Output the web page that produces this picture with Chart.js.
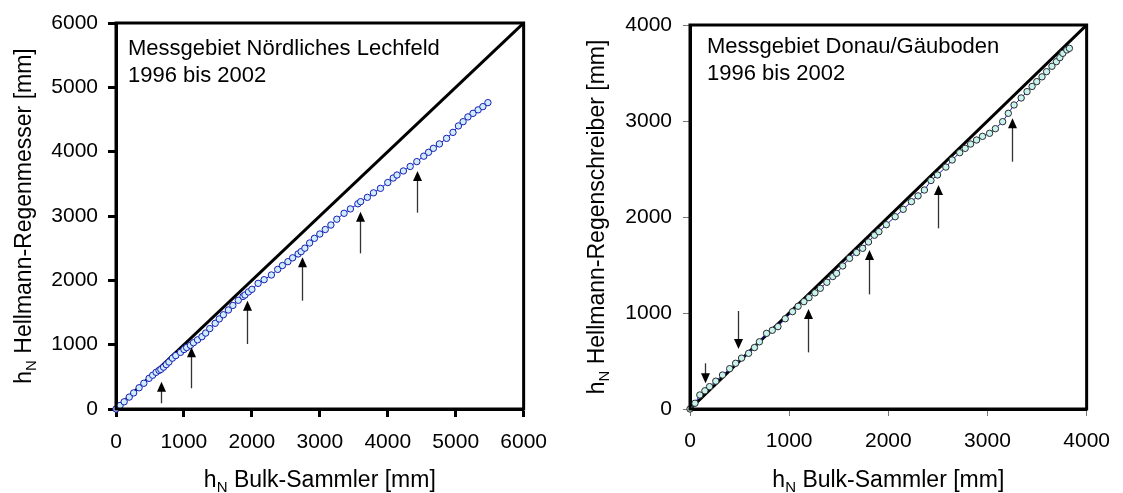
<!DOCTYPE html>
<html>
<head>
<meta charset="utf-8">
<script src="https://cdn.jsdelivr.net/npm/chart.js@4/dist/chart.umd.min.js"></script>
<style>
  body { margin: 0; background: #fff; width: 1123px; height: 493px; overflow: hidden; position: relative; }
  canvas { position: absolute; top: 0; }
  #left { left: 0; }
  #right { left: 560px; }
</style>
</head>
<body>
<canvas id="left" width="560" height="493"></canvas>
<canvas id="right" width="563" height="493"></canvas>
<script>
// ================= DATA =================
// Messgebiet Nördliches Lechfeld (Bulk-Sammler vs. Hellmann-Regenmesser, cumulative mm)
const lechX = [0, 60, 120, 195, 260, 340, 410, 487, 540, 590, 633, 660, 700, 740, 779, 830, 880, 949, 1000, 1040,
  1095, 1140, 1200, 1265, 1320, 1380, 1460, 1520, 1580, 1654, 1720, 1800, 1870, 1898, 1950, 2000, 2092, 2180, 2287, 2380,
  2450, 2530, 2600, 2680, 2725, 2780, 2850, 2920, 3000, 3080, 3163, 3250, 3357, 3450, 3560, 3601, 3700, 3790, 3893, 4000,
  4080, 4136, 4230, 4330, 4428, 4530, 4600, 4671, 4760, 4866, 4960, 5040, 5109, 5180, 5255, 5330, 5400, 5474];
const lechY = [0, 55, 112, 185, 250, 330, 400, 477, 525, 570, 600, 615, 650, 690, 730, 790, 830, 880, 925, 955,
  990, 1030, 1075, 1124, 1180, 1250, 1332, 1400, 1465, 1539, 1610, 1690, 1750, 1772, 1820, 1860, 1953, 2010, 2083, 2170,
  2230, 2290, 2350, 2410, 2446, 2500, 2580, 2653, 2720, 2790, 2860, 2950, 3042, 3110, 3190, 3223, 3290, 3360, 3430, 3520,
  3590, 3637, 3700, 3770, 3845, 3930, 3990, 4052, 4120, 4207, 4300, 4400, 4466, 4540, 4596, 4650, 4700, 4762];
const lechArrowX = [667, 1110, 1922, 2735, 3591, 4433];
const lechArrowFrom = [88, 322, 1010, 1684, 2420, 3052];
const lechArrowTo = [425, 959, 1684, 2358, 3067, 3700];
const lechTicks = [0, 1000, 2000, 3000, 4000, 5000, 6000];

// Messgebiet Donau/Gäuboden (Bulk-Sammler vs. Hellmann-Regenschreiber)
const donauX = [0, 50, 99, 150, 197, 260, 328, 400, 460, 520, 591, 650, 700, 772, 830, 887, 960, 1034, 1090, 1149,
  1200, 1260, 1314, 1380, 1440, 1478, 1540, 1609, 1680, 1741, 1800, 1860, 1905, 1980, 2069, 2150, 2233, 2300, 2364, 2430,
  2496, 2580, 2644, 2720, 2775, 2830, 2890, 2950, 3021, 3080, 3153, 3210, 3268, 3340, 3399, 3450, 3497, 3550, 3596, 3650,
  3695, 3730, 3760, 3800, 3826];
const donauY = [0, 60, 146, 190, 233, 290, 354, 420, 476, 530, 580, 640, 700, 788, 820, 858, 940, 1014, 1070, 1118,
  1160, 1210, 1257, 1320, 1380, 1413, 1490, 1569, 1630, 1674, 1740, 1810, 1847, 1920, 2003, 2080, 2160, 2220, 2281, 2380,
  2438, 2520, 2594, 2670, 2715, 2760, 2802, 2840, 2872, 2920, 2993, 3080, 3167, 3240, 3306, 3360, 3410, 3460, 3514, 3570,
  3618, 3660, 3705, 3740, 3757];
const donauArrowX = [154, 486, 1189, 1806, 2502, 3245];
const donauArrowFrom = [476, 1021, 590, 1194, 1882, 2576];
const donauArrowTo = [267, 625, 1042, 1656, 2333, 3028];
const donauTicks = [0, 1000, 2000, 3000, 4000];

// ================= HELPERS =================
const FONT = "'Liberation Sans', Arial, sans-serif";

function toPoints(xs, ys) {
  return xs.map((x, i) => ({ x: x, y: ys[i] }));
}

// text like "h_N Bulk-Sammler [mm]" with a subscript N
function drawSubText(ctx, cx, cy, rot, rest) {
  ctx.save();
  ctx.translate(cx, cy);
  ctx.rotate(rot);
  ctx.fillStyle = '#000';
  ctx.textBaseline = 'alphabetic';
  ctx.font = '23px ' + FONT;
  const wh = ctx.measureText('h').width;
  const wr = ctx.measureText(rest).width;
  ctx.font = '15px ' + FONT;
  const wn = ctx.measureText('N').width;
  let x = -(wh + wn + wr) / 2;
  ctx.font = '23px ' + FONT;
  ctx.fillText('h', x, 0);
  x += wh;
  ctx.font = '15px ' + FONT;
  ctx.fillText('N', x, 5);
  x += wn;
  ctx.font = '23px ' + FONT;
  ctx.fillText(rest, x, 0);
  ctx.restore();
}

const extras = {
  id: 'extras',
  afterDatasetsDraw(chart, args, opts) {
    const ctx = chart.ctx;
    const a = chart.chartArea;
    const xs = chart.scales.x, ys = chart.scales.y;

    // arrows
    ctx.save();
    opts.arrowX.forEach((v, i) => {
      const px = Math.round(xs.getPixelForValue(v)) + 0.5;
      const p0 = ys.getPixelForValue(opts.arrowFrom[i]);
      const p1 = ys.getPixelForValue(opts.arrowTo[i]);
      const dir = p1 < p0 ? 1 : -1;
      ctx.strokeStyle = '#333';
      ctx.lineWidth = 1.3;
      ctx.beginPath();
      ctx.moveTo(px, p0);
      ctx.lineTo(px, p1 + dir * 8);
      ctx.stroke();
      ctx.fillStyle = '#000';
      ctx.beginPath();
      ctx.moveTo(px, p1);
      ctx.lineTo(px - 4.5, p1 + dir * 10);
      ctx.lineTo(px + 4.5, p1 + dir * 10);
      ctx.closePath();
      ctx.fill();
    });
    ctx.restore();

    // frame
    ctx.save();
    ctx.strokeStyle = '#000';
    ctx.lineWidth = 3;
    ctx.strokeRect(a.left, a.top, a.right - a.left, a.bottom - a.top);
    ctx.restore();

    // label inside the plot
    ctx.save();
    ctx.fillStyle = '#000';
    ctx.font = '22px ' + FONT;
    ctx.textBaseline = 'alphabetic';
    opts.label.forEach((t, i) => ctx.fillText(t, a.left + opts.labelDx, opts.labelY + i * 27));
    ctx.restore();

    // axis titles
    drawSubText(ctx, (a.left + a.right) / 2, 487, 0, ' Bulk-Sammler [mm]');
    drawSubText(ctx, opts.yTitleX, (a.top + a.bottom) / 2, -Math.PI / 2, opts.yTitle);
  }
};

function makeChart(id, o) {
  const tickFont = { family: FONT, size: 21 };
  return new Chart(document.getElementById(id), {
    type: 'scatter',
    data: {
      datasets: [
        {
          data: toPoints(o.xs, o.ys),
          showLine: true,
          borderColor: '#1010e0',
          borderWidth: 1,
          pointRadius: 3.2,
          pointBorderWidth: 1,
          pointBorderColor: o.pointBorder,
          pointBackgroundColor: o.pointFill,
          clip: false
        },
        {
          data: [{ x: 0, y: 0 }, { x: o.max, y: o.max }],
          showLine: true,
          borderColor: '#000',
          borderWidth: 3,
          pointRadius: 0
        }
      ]
    },
    options: {
      responsive: false,
      animation: false,
      devicePixelRatio: 1,
      layout: { padding: o.padding },
      plugins: {
        legend: { display: false },
        tooltip: { enabled: false },
        extras: o.extras
      },
      scales: {
        x: {
          type: 'linear', min: 0, max: o.max,
          afterBuildTicks: s => { s.ticks = o.ticks.map(v => ({ value: v })); },
          ticks: { font: tickFont, color: '#000', padding: 13, maxRotation: 0, callback: v => String(v) },
          grid: { drawOnChartArea: false, tickLength: o.tickLength, tickWidth: o.tickWidth, tickColor: o.tickColor },
          border: { display: true, width: 3, color: '#000' },
          afterFit: s => { s.height = 84; }
        },
        y: {
          type: 'linear', min: 0, max: o.max,
          afterBuildTicks: s => { s.ticks = o.ticks.map(v => ({ value: v })); },
          ticks: { font: tickFont, color: '#000', padding: o.yPad, callback: v => String(v) },
          grid: { drawOnChartArea: false, tickLength: o.tickLength, tickWidth: o.tickWidth, tickColor: o.tickColor },
          border: { display: true, width: 3, color: '#000' },
          afterFit: s => { s.width = o.yWidth; }
        }
      }
    },
    plugins: [extras]
  });
}

// ================= CHARTS =================
makeChart('left', {
  xs: lechX, ys: lechY, max: 6000, ticks: lechTicks,
  pointBorder: '#1a1ab4', pointFill: '#cdeefc',
  padding: { left: 0, right: 33, top: 23, bottom: 0 },
  yWidth: 116, yPad: 10, tickLength: 8, tickWidth: 3, tickColor: '#000',
  extras: {
    arrowX: lechArrowX, arrowFrom: lechArrowFrom, arrowTo: lechArrowTo,
    label: ['Messgebiet Nördliches Lechfeld', '1996 bis 2002'], labelDx: 12, labelY: 55,
    yTitle: ' Hellmann-Regenmesser [mm]', yTitleX: 31
  }
});

makeChart('right', {
  xs: donauX, ys: donauY, max: 4000, ticks: donauTicks,
  pointBorder: '#2a2a2a', pointFill: '#c8f4f0',
  padding: { left: 0, right: 27, top: 25, bottom: 0 },
  yWidth: 130, yPad: 11, tickLength: 7, tickWidth: 1, tickColor: '#777',
  extras: {
    arrowX: donauArrowX, arrowFrom: donauArrowFrom, arrowTo: donauArrowTo,
    label: ['Messgebiet Donau/Gäuboden', '1996 bis 2002'], labelDx: 17, labelY: 53,
    yTitle: ' Hellmann-Regenschreiber [mm]', yTitleX: 44
  }
});
</script>
</body>
</html>
